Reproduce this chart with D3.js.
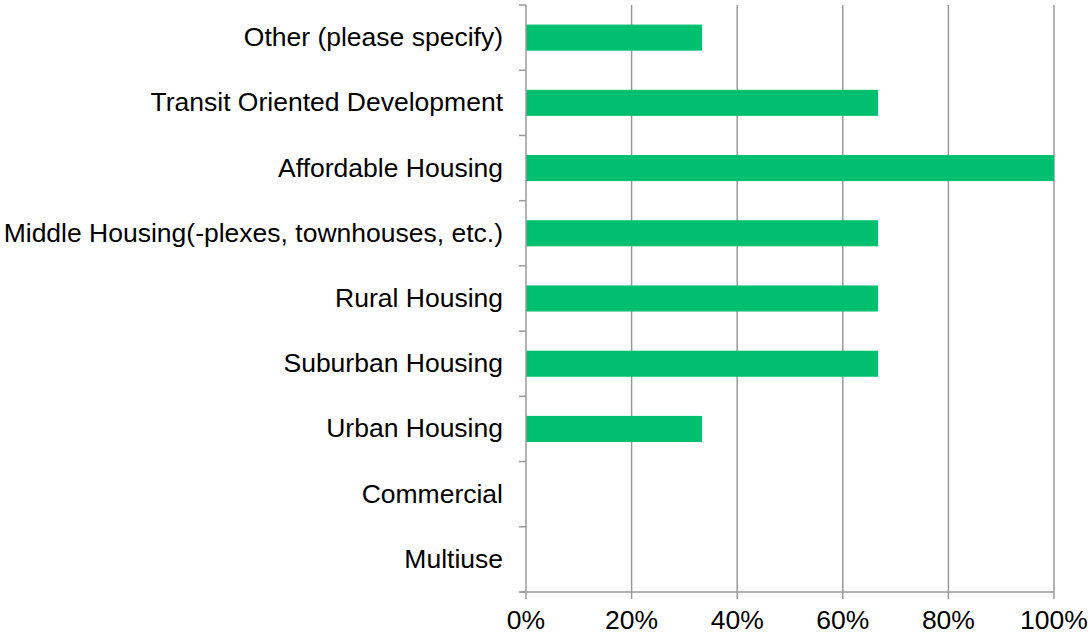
<!DOCTYPE html>
<html>
<head>
<meta charset="utf-8">
<script src="https://cdn.jsdelivr.net/npm/d3@7"></script>
<style>
  html, body { margin: 0; padding: 0; background: #ffffff; }
  svg { display: block; }
  text { font-family: "Liberation Sans", Arial, sans-serif; fill: #000; }
</style>
</head>
<body>
<svg id="chart" width="1088" height="635"></svg>
<script>
// Categories listed from top to bottom
const categories = [
  "Other (please specify)",
  "Transit Oriented Development",
  "Affordable Housing",
  "Middle Housing(-plexes, townhouses, etc.)",
  "Rural Housing",
  "Suburban Housing",
  "Urban Housing",
  "Commercial",
  "Multiuse"
];
// Share of responses (percent)
const values = [33.33, 66.67, 100, 66.67, 66.67, 66.67, 33.33, 0, 0];
const xTicks = [0, 20, 40, 60, 80, 100];

const svg = d3.select("#chart");
const margin = { left: 526, right: 34, top: 5, bottom: 43 };
const W = 1088, H = 635;
const fontSize = 26.5;

const x = d3.scaleLinear().domain([0, 100]).range([margin.left, W - margin.right]);
const y = d3.scaleBand().domain(categories).range([margin.top, H - margin.bottom]).paddingInner(0.6).paddingOuter(0.3);
const yb = d3.scaleBand().domain(categories).range([margin.top, H - margin.bottom]);

const gridColor = "#9a9a9a";

// vertical gridlines
svg.append("g").selectAll("line")
  .data(xTicks.filter(t => t > 0))
  .join("line")
  .attr("x1", d => x(d)).attr("x2", d => x(d))
  .attr("y1", margin.top).attr("y2", H - margin.bottom)
  .attr("stroke", gridColor).attr("stroke-width", 1.5);

// bars
svg.append("g").selectAll("rect")
  .data(categories.map((c, i) => ({ c, v: values[i] })).filter(d => d.v > 0))
  .join("rect")
  .attr("x", x(0))
  .attr("y", d => y(d.c))
  .attr("width", d => x(d.v) - x(0))
  .attr("height", y.bandwidth())
  .attr("fill", "#00c070");

// y axis with ticks at band boundaries
const yAxis = svg.append("g");
yAxis.append("line")
  .attr("x1", x(0)).attr("x2", x(0))
  .attr("y1", margin.top).attr("y2", H - margin.bottom)
  .attr("stroke", gridColor).attr("stroke-width", 1.5);
const bounds = categories.map(c => yb(c)).concat([H - margin.bottom]);
yAxis.selectAll("line.tick")
  .data(bounds)
  .join("line")
  .attr("class", "tick")
  .attr("x1", x(0) - 7).attr("x2", x(0))
  .attr("y1", d => d).attr("y2", d => d)
  .attr("stroke", gridColor).attr("stroke-width", 1.5);
yAxis.selectAll("text")
  .data(categories)
  .join("text")
  .attr("x", x(0) - 23)
  .attr("y", d => yb(d) + yb.bandwidth() / 2 + 8.5)
  .attr("text-anchor", "end")
  .attr("font-size", fontSize)
  .text(d => d);

// x axis
const xAxis = svg.append("g");
xAxis.append("line")
  .attr("x1", x(0) - 7).attr("x2", x(100))
  .attr("y1", H - margin.bottom).attr("y2", H - margin.bottom)
  .attr("stroke", gridColor).attr("stroke-width", 1.5);
xAxis.selectAll("line.tick")
  .data(xTicks)
  .join("line")
  .attr("class", "tick")
  .attr("x1", d => x(d)).attr("x2", d => x(d))
  .attr("y1", H - margin.bottom).attr("y2", H - margin.bottom + 7)
  .attr("stroke", gridColor).attr("stroke-width", 1.5);
xAxis.selectAll("text")
  .data(xTicks)
  .join("text")
  .attr("x", d => x(d))
  .attr("y", H - margin.bottom + 37)
  .attr("text-anchor", "middle")
  .attr("font-size", fontSize)
  .text(d => d + "%");
</script>
</body>
</html>
